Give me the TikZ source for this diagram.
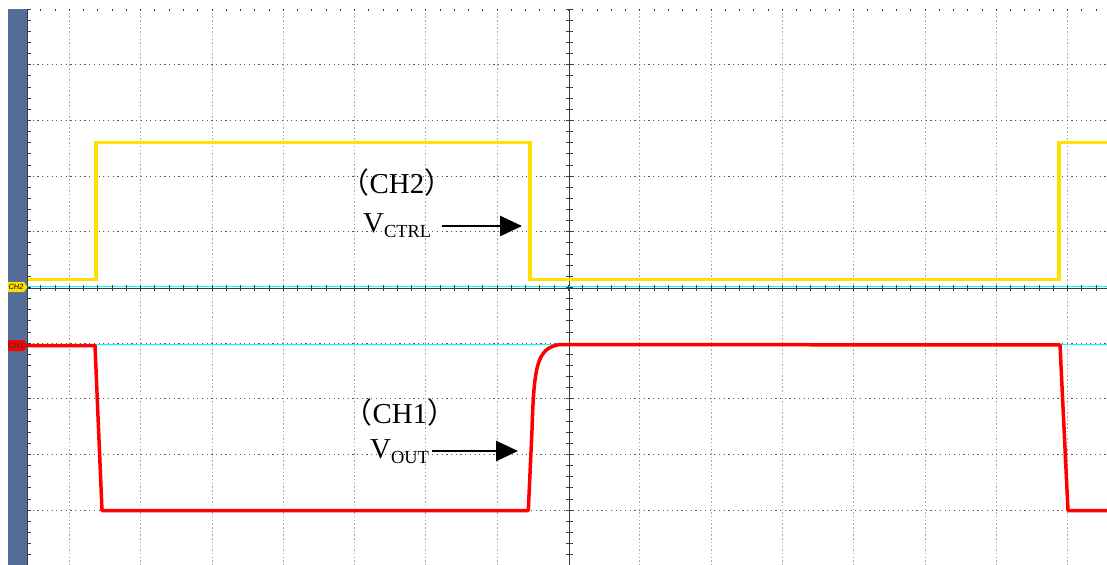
\documentclass[tikz,border=0pt]{standalone}
\usepackage{fontspec}
\setmainfont{Liberation Serif}
\newfontfamily\cjk{Noto Sans CJK SC}
\newfontfamily\tagfont{Liberation Sans}
\definecolor{sidebar}{RGB}{84,108,152}
\definecolor{ch2yellow}{RGB}{255,224,0}
\definecolor{ch1red}{RGB}{255,0,0}
\definecolor{refcyan}{RGB}{0,255,255}
\definecolor{axisgray}{RGB}{55,60,60}
\usetikzlibrary{arrows.meta, positioning}
\newcommand{\subtxt}[1]{\raisebox{-5bp}{\fontsize{18.5}{20}\selectfont #1}}

\begin{document}
\begin{tikzpicture}[x=1bp, y=-1bp,
  hgrid/.style={axisgray!85, line width=0.9bp, dash pattern=on 1.2bp off 3.5bp},
  vgrid/.style={gray!70, line width=0.8bp, dash pattern=on 1.5bp off 2.2bp},
  axis/.style={axisgray, line width=1.1bp},
  tick/.style={axisgray, line width=0.8bp},
  ch2wave/.style={ch2yellow, line width=3.2bp},
  ch1wave/.style={ch1red, line width=3.5bp, line join=round},
  reftrace/.style={refcyan, line width=1bp},
  pointer/.style={line width=2.7bp, -{Triangle[length=22bp, width=20bp]}},
  lbl/.style={inner sep=0pt, font=\fontsize{29}{32}\selectfont},
  tagtxt/.style={inner sep=0pt, font=\tagfont\itshape\fontsize{7.5}{8}\selectfont},
]
  \useasboundingbox[fill=white] (0,0) rectangle (1107,565);
  % side bar
  \fill[sidebar] (8,9) rectangle (27.5,565);

  % grid
  \foreach \k in {0,...,14} {
    \ifnum\k=7\relax\else
      \draw[vgrid] ({69.3+71.3*\k},9) -- ({69.3+71.3*\k},565);
    \fi
  }
  \foreach \j in {1,...,9} {
    \ifnum\j=5\relax\else
      \draw[hgrid] (28,{9+55.68*\j}) -- (1107,{9+55.68*\j});
    \fi
  }

  % axes and ticks
  \draw[axis] (27.8,9) -- (27.8,565);
  \draw[axis] (569.3,9) -- (569.3,565);
  \draw[reftrace] (28,287) -- (1107,287);
  \draw[axis] (28,288.2) -- (1107,288.2);
  \foreach \k in {0,...,50} {
    \draw[tick] (27.8,{9+11.136*\k}) -- (31.3,{9+11.136*\k});
    \draw[tick] (566,{9+11.136*\k}) -- (572.6,{9+11.136*\k});
  }
  \foreach \k in {-2,...,72} {
    \draw[tick] ({69.3+14.26*\k},9) -- ({69.3+14.26*\k},11.5);
    \draw[tick] ({69.3+14.26*\k},285) -- ({69.3+14.26*\k},291.4);
  }

  % channel tags
  \fill[ch2yellow] (8,282) -- (24,282) -- (27.5,287) -- (24,292) -- (8,292) -- cycle;
  \node[tagtxt] (ch2tag) at (16,287) {CH2};
  \fill[ch1red] (8,340) -- (24,340) -- (27.5,345.5) -- (24,351) -- (8,351) -- cycle;
  \node[tagtxt, font=\tagfont\fontsize{8}{8}\selectfont, text=black!80] (ch1tag) at (16,345.5) {CH1};

  % traces
  \draw[reftrace] (28,344.3) -- (1107,344.3);
  \draw[ch2wave] (28,279.5) -- (96,279.5) -- (96,142.7) -- (530,142.7)
    -- (530,279.5) -- (1059,279.5) -- (1059,142.7) -- (1107,142.7);
  \draw[ch1wave] (28,345.5) -- (95,345.5) -- (102,510.5) -- (528.3,510.5)
    -- (532,430) .. controls (534,365) and (537,348) .. (560,344.5)
    -- (1060,345) -- (1068,510.5) -- (1107,510.5);

  % labels
  \node[lbl, anchor=base] (ch2lbl) at (397,194) {{\cjk （}CH2{\cjk ）}};
  \node[lbl, anchor=base west] (vctrl) at (363,233) {V\subtxt{CTRL}};
  \coordinate (ctrltip) at (522,226);
  \draw[pointer, shorten <=11bp] (vctrl.east |- ctrltip) -- (ctrltip);

  \node[lbl, anchor=base] (ch1lbl) at (400,423) {{\cjk （}CH1{\cjk ）}};
  \node[lbl, anchor=base west] (vout) at (370,458) {V\subtxt{OUT}};
  \coordinate (outtip) at (518,451);
  \draw[pointer, shorten <=3bp] (vout.east |- outtip) -- (outtip);
\end{tikzpicture}
\end{document}
